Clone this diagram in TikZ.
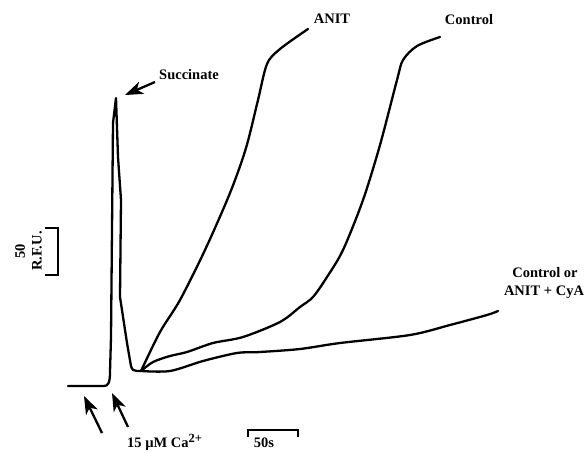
\documentclass[tikz,border=0pt]{standalone}
\usepackage{fontspec}
\setmainfont{Liberation Serif}
\usetikzlibrary{arrows.meta}
\begin{document}
\begin{tikzpicture}[x=1pt,y=-1pt,
  trace/.style={line width=2.3pt,line join=round,line cap=round},
  lbl/.style={font=\fontsize{14.5}{17}\selectfont\bfseries,inner sep=0pt,align=center},
  pointer/.style={line width=2.3pt,-{Stealth[length=18pt,width=13pt,inset=5pt]}},
  bar/.style={line width=1.8pt}]
\useasboundingbox (0,0) rectangle (588,452);
\coordinate (o) at (141,371);
% baseline and succinate spike
\draw[trace] (68,386) -- (104,386) .. controls (108,386) and (110,383) .. (110,372)
  -- (111,337) -- (113,123) -- (116,98) -- (118,157) -- (121,200) -- (120,297)
  -- (127,343) -- (131,366) .. controls (132,370) and (134,371) .. (137,371) -- (o);
% ANIT
\draw[trace] plot[smooth,tension=0.5] coordinates {(141,371) (160,332) (180,300) (205,250) (230,193) (246,148) (258,100) (267,64) (280,49) (308,29)};
% Control
\draw[trace] plot[smooth,tension=0.5] coordinates {(141,371) (153,362) (170,356) (187,352) (213,343) (243,337) (280,322) (300,307) (313,297) (327,277) (343,250) (363,200) (380,145) (397,80) (403,60) (417,46) (440,37)};
% Control or ANIT + CyA
\draw[trace] plot[smooth,tension=0.5] coordinates {(141,371) (170,371) (203,361) (237,353) (260,352) (300,349) (340,343) (410,335) (450,325) (487,315) (498,311)};
% labels
\node[lbl] (succ) at (189,75) {Succinate};
\node[lbl] (anit) at (332,19) {ANIT};
\node[lbl] (ctrl) at (469,20) {Control};
\node[lbl] (cyaA) at (545,273) {Control or};
\node[lbl] (cyaB) at (544,292) {ANIT + CyA};
\node[lbl,anchor=west] (ca) at (127,442) {15 µM Ca\raisebox{5pt}{\fontsize{12.5}{14}\selectfont 2+}};
% succinate arrow
\coordinate (sTail) at (155,82);
\coordinate (sHead) at (125,95);
\draw[pointer] (sTail) -- (sHead);
% Ca arrows
\coordinate (a1t) at (102,433);
\coordinate (a1h) at (84,396);
\coordinate (a2t) at (128,427);
\coordinate (a2h) at (112,393);
\draw[pointer] (a1t) -- (a1h);
\draw[pointer] (a2t) -- (a2h);
% R.F.U. scale bar
\coordinate (r1) at (45,228);
\coordinate (r2) at (58,228);
\coordinate (r3) at (58,275);
\coordinate (r4) at (45,275);
\draw[bar] (r1) -- (r2) -- (r3) -- (r4);
\node[lbl,rotate=90] (rfu) at (37,251) {R.F.U.};
\node[lbl,rotate=90] (fifty) at (20,251) {50};
% time scale bar
\coordinate (t1) at (248,437);
\coordinate (t2) at (248,430);
\coordinate (t3) at (298,430);
\coordinate (t4) at (298,437);
\draw[bar] (t1) -- (t2) -- (t3) -- (t4);
\node[lbl] (fs) at (264,443) {50s};
\end{tikzpicture}
\end{document}
